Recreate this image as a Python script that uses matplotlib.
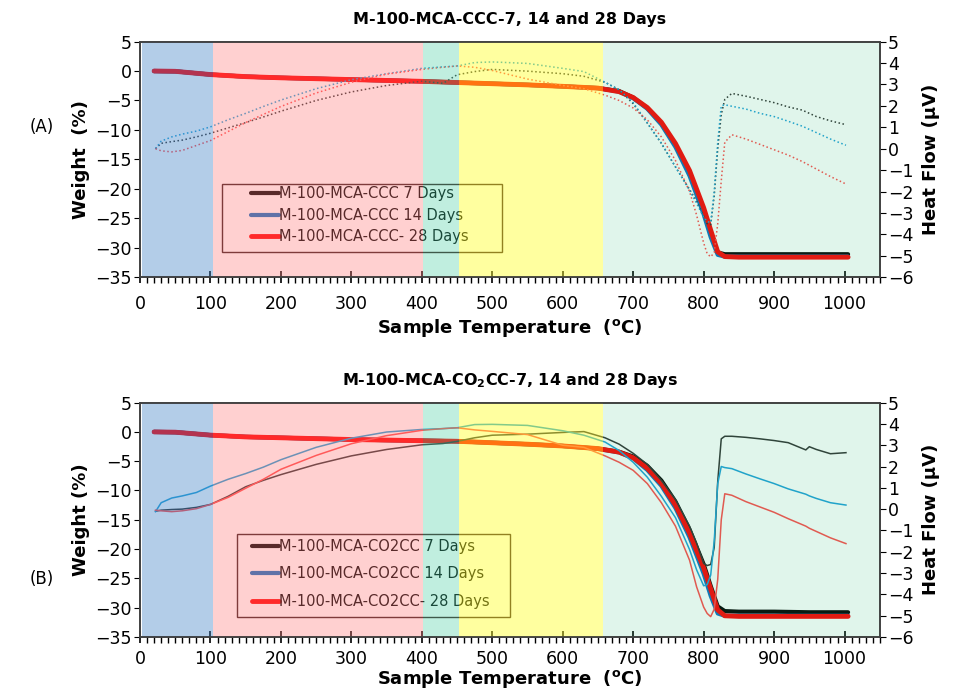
import matplotlib
matplotlib.use("Agg")
import matplotlib.pyplot as plt
from matplotlib.ticker import MultipleLocator
from matplotlib.patches import Rectangle

plt.rcParams['font.family'] = ['DejaVu Sans']

# ---------------- data ----------------
# weight curves (left axis, %)
t_w = [20, 50, 100, 150, 200, 250, 300, 350, 400, 450, 500, 550, 600, 650, 680,
       700, 720, 740, 760, 780, 800, 810, 820, 830, 850, 900, 950, 1005]
wA_7 = [0, -0.05, -0.6, -0.95, -1.15, -1.3, -1.45, -1.6, -1.75, -1.95, -2.15, -2.35, -2.6, -2.9, -3.4,
        -4.5, -6.3, -8.9, -12.6, -17.4, -23.8, -27.7, -30.8, -31.1, -31.1, -31.1, -31.1, -31.1]
wA_14 = [0, -0.05, -0.6, -0.95, -1.15, -1.3, -1.45, -1.6, -1.75, -1.95, -2.15, -2.35, -2.6, -2.9, -3.5,
         -4.6, -6.4, -9.1, -12.9, -17.8, -24.3, -28.2, -31.2, -31.5, -31.5, -31.5, -31.5, -31.5]
wA_28 = [0, -0.05, -0.6, -0.95, -1.15, -1.3, -1.45, -1.6, -1.75, -1.95, -2.15, -2.35, -2.6, -2.9, -3.5,
         -4.5, -6.2, -8.7, -12.3, -16.9, -23.2, -27.0, -30.7, -31.5, -31.6, -31.6, -31.6, -31.6]
wB_7 = [0, -0.05, -0.55, -0.85, -1.0, -1.15, -1.3, -1.4, -1.5, -1.6, -1.85, -2.1, -2.4, -2.85, -3.4,
        -4.2, -5.8, -8.3, -11.9, -16.7, -22.6, -26.3, -29.8, -30.6, -30.7, -30.7, -30.8, -30.8]
wB_14 = [0, -0.05, -0.55, -0.85, -1.0, -1.15, -1.3, -1.4, -1.5, -1.6, -1.85, -2.1, -2.4, -2.9, -3.5,
         -4.5, -6.5, -9.2, -13.0, -18.0, -24.2, -28.0, -31.0, -31.4, -31.4, -31.4, -31.4, -31.4]
wB_28 = [0, -0.05, -0.55, -0.85, -1.0, -1.15, -1.3, -1.4, -1.5, -1.6, -1.85, -2.1, -2.4, -2.85, -3.45,
         -4.4, -6.2, -8.8, -12.5, -17.3, -23.2, -26.8, -30.4, -31.4, -31.5, -31.5, -31.5, -31.5]

# heat flow curves (right axis, uV)
t_hA = [22, 30, 45, 60, 80, 100, 125, 150, 175, 200, 250, 300, 350, 400, 430, 450, 475, 500, 550,
        600, 630, 660, 680, 700, 720, 740, 760, 780, 790, 800, 805, 810, 815, 820, 825, 830, 840,
        860, 880, 900, 920, 940, 960, 980, 1002]
hA_7 = [0.0, 0.25, 0.33, 0.4, 0.55, 0.72, 0.97, 1.22, 1.48, 1.75, 2.25, 2.65, 2.95, 3.15, 3.05, 3.45,
        3.6, 3.7, 3.62, 3.5, 3.38, 3.1, 2.75, 2.1, 1.2, 0.25, -0.85, -1.9, -2.45, -3.15, -3.5, -3.55,
        -2.2, 0.0, 1.6, 2.3, 2.58, 2.45, 2.3, 2.15, 1.95, 1.8, 1.5, 1.3, 1.12]
hA_14 = [0.0, 0.35, 0.55, 0.68, 0.82, 1.02, 1.35, 1.65, 1.97, 2.27, 2.8, 3.22, 3.5, 3.75, 3.82, 3.86,
         4.02, 4.05, 3.98, 3.75, 3.6, 3.1, 2.75, 2.15, 1.2, 0.25, -0.85, -1.95, -2.55, -3.2, -3.4, -3.45,
         -2.0, 0.3, 2.0, 2.05, 1.98, 1.85, 1.65, 1.5, 1.28, 1.05, 0.75, 0.45, 0.16]
hA_28 = [0.0, -0.1, -0.15, -0.08, 0.15, 0.38, 0.8, 1.22, 1.6, 1.97, 2.6, 3.1, 3.48, 3.7, 3.8, 3.86,
         3.8, 3.65, 3.25, 2.95, 2.8, 2.5, 2.25, 1.9, 1.35, 0.55, -0.55, -2.0, -3.1, -4.4, -4.9, -5.05,
         -4.85, -3.5, -1.5, 0.3, 0.65, 0.45, 0.2, -0.05, -0.3, -0.6, -0.95, -1.3, -1.65]

t_hB = [22, 30, 45, 60, 80, 100, 125, 150, 175, 200, 250, 300, 350, 400, 430, 450, 475, 500, 550,
        600, 630, 660, 680, 700, 720, 740, 760, 780, 790, 800, 805, 810, 815, 820, 825, 830, 840,
        860, 880, 900, 920, 945, 950, 960, 980, 1002]
hB_7 = [-0.1, -0.05, -0.02, 0.0, 0.08, 0.22, 0.6, 1.05, 1.35, 1.62, 2.1, 2.5, 2.8, 3.02, 3.08, 3.18,
        3.35, 3.47, 3.52, 3.6, 3.64, 3.35, 3.05, 2.62, 2.1, 1.35, 0.45, -0.8, -1.6, -2.55, -2.65, -2.6,
        -1.8, 1.3, 3.3, 3.42, 3.42, 3.37, 3.3, 3.22, 3.12, 2.78, 2.93, 2.8, 2.6, 2.65]
hB_14 = [-0.12, 0.3, 0.52, 0.62, 0.78, 1.08, 1.4, 1.67, 1.97, 2.32, 2.9, 3.33, 3.62, 3.74, 3.78, 3.82,
         3.97, 3.98, 3.93, 3.68, 3.47, 3.15, 2.75, 2.2, 1.5, 0.6, -0.4, -1.9, -2.85, -3.6, -3.55, -3.1,
         -1.5, 1.2, 2.0, 1.95, 1.9, 1.65, 1.42, 1.2, 0.95, 0.7, 0.62, 0.5, 0.3, 0.19]
hB_28 = [-0.05, -0.08, -0.12, -0.08, 0.02, 0.22, 0.55, 0.98, 1.4, 1.87, 2.52, 3.07, 3.45, 3.7, 3.78, 3.82,
         3.72, 3.65, 3.5, 3.0, 2.9, 2.5, 2.2, 1.82, 1.2, 0.3, -0.8, -2.4, -3.65, -4.6, -4.9, -5.05,
         -4.7, -3.3, -0.5, 0.72, 0.65, 0.35, 0.1, -0.15, -0.45, -0.8, -0.9, -1.05, -1.35, -1.62]

# colour bands (temperature ranges)
band_edges = [3, 103, 401, 453, 657, 1050]
band_colors = ['#4182c6', '#ff7979', '#4bd1a6', '#ffff2a', '#30bc7a']
band_alpha = [0.4, 0.35, 0.35, 0.45, 0.15]

labels_A = ['M-100-MCA-CCC 7 Days', 'M-100-MCA-CCC 14 Days', 'M-100-MCA-CCC- 28 Days']
labels_B = ['M-100-MCA-CO2CC 7 Days', 'M-100-MCA-CO2CC 14 Days', 'M-100-MCA-CO2CC- 28 Days']

w_colors = ['black', '#0a6fc2', '#ff0000']
h_colors = ['#303030', '#1e9fd8', '#ff4a4a']


def draw_panel(ax, weights, t_h, heats, labels, hstyle, title, leg_pos, leg_box, leg_space, xpad):
    ax2 = ax.twinx()
    for w, c, lab, lw in zip(weights, w_colors, labels, [3, 3, 3.5]):
        ax.plot(t_w, w, color=c, lw=lw, label=lab, solid_capstyle='round')
    for h, c in zip(heats, h_colors):
        ax2.plot(t_h, h, color=c, lw=1.1, ls=hstyle, zorder=1)
    for i in range(len(band_colors)):
        ax2.axvspan(band_edges[i], band_edges[i + 1], color=band_colors[i],
                    alpha=band_alpha[i], lw=0, zorder=2)

    ax.set_xlim(0, 1050)
    ax.set_ylim(-35, 5)
    ax2.set_ylim(-6, 5)
    ax.yaxis.set_major_locator(MultipleLocator(5))
    ax2.yaxis.set_major_locator(MultipleLocator(1))
    ax.xaxis.set_major_locator(MultipleLocator(100))
    ax.xaxis.set_minor_locator(MultipleLocator(10))
    ax.tick_params(axis='x', which='major', direction='inout', length=9, width=1.2, labelsize=12.5, pad=xpad)
    ax.tick_params(axis='x', which='minor', direction='out', length=4, width=1)
    ax.tick_params(axis='y', direction='out', length=4, labelsize=12.5, pad=2)
    ax2.tick_params(axis='y', direction='out', length=4, labelsize=12.5, pad=2)
    for a in (ax, ax2):
        for s in a.spines.values():
            s.set_color('#404040')
            s.set_linewidth(1.2)

    ax.set_title(title, fontsize=11.5, fontweight='bold', pad=13)
    ax2.set_ylabel('Heat Flow (μV)', fontsize=13, fontweight='bold', labelpad=6)

    # legend box drawn separately (wide side padding as in the original)
    ax.add_patch(Rectangle(leg_box[:2], leg_box[2], leg_box[3], transform=ax.transAxes,
                           fill=False, edgecolor='#3a1a1a', lw=1.0, zorder=3))
    leg = ax.legend(loc='upper left', bbox_to_anchor=leg_pos, borderaxespad=0,
                    fontsize=10.5, frameon=False, handlelength=1.9,
                    handletextpad=0.0, labelspacing=leg_space, borderpad=0)
    leg.set_zorder(3)
    return ax2


fig = plt.figure(figsize=(9.67, 6.93), dpi=100)
axA = fig.add_axes([0.1448, 0.600, 0.765, 0.340])
axB = fig.add_axes([0.1448, 0.081, 0.765, 0.338])

draw_panel(axA, [wA_7, wA_14, wA_28], t_hA, [hA_7, hA_14, hA_28], labels_A, ':',
           'M-100-MCA-CCC-7, 14 and 28 Days', (0.150, 0.386),
           (0.111, 0.106, 0.378, 0.289), 0.45, 8)
draw_panel(axB, [wB_7, wB_14, wB_28], t_hB, [hB_7, hB_14, hB_28], labels_B, '-',
           r'M-100-MCA-CO$_\mathbf{2}$CC-7, 14 and 28 Days', (0.151, 0.418),
           (0.131, 0.085, 0.369, 0.353), 0.85, 5)

axA.set_xlabel(r'Sample Temperature  ($^{\mathbf{o}}$C)', fontsize=13, fontweight='bold', labelpad=3)
axB.set_xlabel(r'Sample Temperature  ($^{\mathbf{o}}$C)', fontsize=13, fontweight='bold', labelpad=0)
axA.set_ylabel('Weight  (%)', fontsize=13, fontweight='bold', labelpad=4)
axB.set_ylabel('Weight (%)', fontsize=13, fontweight='bold', labelpad=4)

fig.text(0.031, 0.817, '(A)', fontsize=12, ha='left', va='center')
fig.text(0.031, 0.165, '(B)', fontsize=12, ha='left', va='center')

fig.savefig('out.png', dpi=100)
